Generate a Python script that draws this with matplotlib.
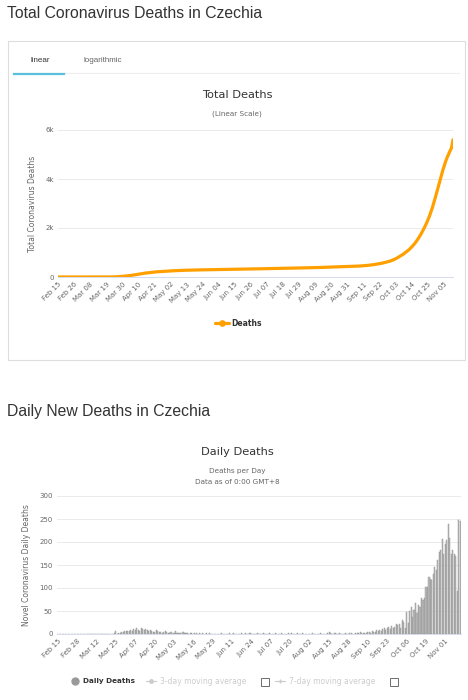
import numpy as np
import matplotlib
matplotlib.use("Agg")
import matplotlib.pyplot as plt
from matplotlib.lines import Line2D
from matplotlib.patches import Rectangle
import datetime as dt

# dates Feb 15 .. Nov 11 (2020)
start = dt.date(2020, 2, 15)
n_days = 271
dates = [start + dt.timedelta(days=i) for i in range(n_days)]
labels = [d.strftime("%b %d") for d in dates]

# cumulative deaths
total_deaths = (
    [0] * 15 + [0] * 21 +
    [1, 1, 3, 9, 10, 13, 16, 21, 26, 32] +
    [39, 45, 51, 59, 65, 75, 83, 95, 104, 112, 124, 134, 142, 153, 162,
     168, 177, 184, 189, 194, 203, 210, 214, 219, 222, 226, 233, 238, 240, 242] +
    [246, 247, 250, 256, 258, 261, 263, 264, 268, 270, 273, 275, 276, 278, 281, 282,
     282, 284, 287, 288, 289, 290, 290, 292, 293, 293, 294, 294, 295, 295, 296] +
    [297, 298, 300, 301, 302, 303, 305, 306, 307, 309, 310, 311, 312, 314, 315,
     316, 318, 319, 320, 321, 322, 324, 325, 326, 327, 329, 330, 331, 332, 333] +
    [334, 335, 336, 338, 339, 340, 341, 343, 344, 345, 346, 348, 349, 350, 351, 353,
     354, 355, 356, 358, 359, 360, 361, 363, 364, 365, 366, 368, 369, 370, 372] +
    [373, 374, 375, 377, 378, 380, 381, 383, 384, 386, 387, 389, 390, 392, 394, 396,
     397, 399, 400, 402, 404, 405, 407, 409, 411, 413, 415, 417, 419, 421, 423] +
    [425, 428, 431, 434, 437, 440, 443, 447, 451, 456, 461, 466, 471, 477, 484,
     491, 499, 507, 516, 526, 536, 546, 558, 571, 585, 600, 616, 633, 651, 670] +
    [695, 720, 750, 785, 820, 855, 890, 930, 975, 1020, 1070, 1120, 1180, 1240, 1310, 1380,
     1460, 1550, 1640, 1740, 1850, 1960, 2080, 2210, 2350, 2500, 2670, 2850, 3050, 3260, 3480] +
    [3700, 3920, 4140, 4350, 4540, 4720, 4880, 5020, 5150, 5270, 5600]
)

# daily new deaths
daily_deaths = (
    [0] * 15 + [0] * 21 +
    [1, 0, 2, 6, 1, 3, 3, 5, 5, 6] +
    [7, 6, 6, 8, 6, 10, 8, 12, 9, 7, 12, 10, 8, 11, 9, 6, 9, 7, 5, 5, 9, 7, 4, 5, 3, 4, 7, 5, 2, 2] +
    [4, 1, 3, 6, 2, 3, 2, 1, 4, 2, 3, 2, 1, 3, 2, 1, 2, 3, 1, 2, 1, 2, 1, 0, 2, 1, 2, 1, 0, 1, 1] +
    [1, 1, 0, 2, 1, 1, 0, 1, 2, 1, 0, 2, 1, 1, 1, 0, 2, 1, 1, 2, 0, 1, 3, 1, 1, 0, 1, 2, 1, 1] +
    [1, 2, 0, 1, 1, 2, 1, 0, 1, 2, 1, 1, 0, 2, 1, 1, 1, 0, 2, 1, 3, 1, 1, 0, 2, 1, 1, 2, 1, 1, 0] +
    [1, 0, 1, 2, 1, 1, 0, 1, 2, 1, 1, 0, 1, 3, 4, 2, 1, 1, 2, 0, 1, 2, 1, 1, 0, 2, 1, 1, 2, 3, 1] +
    [1, 3, 2, 2, 4, 2, 3, 3, 2, 4, 5, 3, 6, 4, 5, 8, 6, 9, 7, 10, 12, 9, 13, 15, 11, 18, 14, 16, 22, 19] +
    [22, 14, 30, 26, 12, 47, 25, 49, 59, 38, 53, 68, 45, 64, 58, 79, 75, 79, 103, 102,
     123, 119, 117, 130, 145, 140, 160, 178, 182, 207, 175] +
    [196, 204, 240, 209, 175, 182, 175, 170, 93, 247, 245]
)

W, H = 468, 700
fig = plt.figure(figsize=(W / 100, H / 100), dpi=100)
fig.patch.set_facecolor("white")


def fx(x):
    return x / W


def fy(y):
    return 1 - y / H


def box(x0, y0, x1, y1):
    return [fx(x0), fy(y1), fx(x1) - fx(x0), fy(y0) - fy(y1)]


title_font = "Liberation Sans"
chart_font = "DejaVu Sans"
grid_c = "#e6e6e6"
tick_c = "#666666"
orange = "#FFA000"

# ---------- top panel ----------
fig.text(fx(7), fy(14), "Total Coronavirus Deaths in Czechia", fontsize=11.3,
         family=title_font, color="#333333", va="center")
fig.patches.append(Rectangle((fx(8), fy(360)), fx(465) - fx(8), fy(41) - fy(360),
                             transform=fig.transFigure, fill=False, ec="#dddddd", lw=0.8))
fig.lines.append(Line2D([fx(14), fx(459)], [fy(73), fy(73)], transform=fig.transFigure,
                        color="#eeeeee", lw=0.8))
fig.lines.append(Line2D([fx(14), fx(64)], [fy(74), fy(74)], transform=fig.transFigure,
                        color="#5bc0de", lw=1.6))
fig.text(fx(40), fy(60), "linear", fontsize=5.8, family=title_font, color="#333333",
         ha="center", va="center")
fig.text(fx(103), fy(60), "logarithmic", fontsize=5.8, family=title_font, color="#666666",
         ha="center", va="center")
fig.text(fx(237), fy(95), "Total Deaths", fontsize=8.2, family=chart_font, color="#333333",
         ha="center", va="center")
fig.text(fx(237), fy(114), "(Linear Scale)", fontsize=5.2, family=chart_font, color="#666666",
         ha="center", va="center")

x = np.arange(n_days)
ax1 = fig.add_axes(box(58, 130, 453, 277))
ax1.plot(x, total_deaths, color=orange, lw=2.3, solid_capstyle="round")
ax1.set_xlim(0, n_days - 1)
ax1.set_ylim(0, 6000)
ax1.set_yticks([0, 2000, 4000, 6000])
ax1.set_yticklabels(["0", "2k", "4k", "6k"])
ax1.set_xticks(x[::11])
ax1.set_xticklabels(labels[::11], rotation=45, ha="right", rotation_mode="anchor")
ax1.set_ylabel("Total Coronavirus Deaths", fontsize=5.5, color=tick_c, family=chart_font,
               labelpad=6)

# ---------- bottom panel ----------
fig.text(fx(7), fy(412), "Daily New Deaths in Czechia", fontsize=11.3,
         family=title_font, color="#333333", va="center")
fig.text(fx(237), fy(452), "Daily Deaths", fontsize=8.2, family=chart_font, color="#333333",
         ha="center", va="center")
fig.text(fx(237), fy(471), "Deaths per Day", fontsize=5.2, family=chart_font, color="#666666",
         ha="center", va="center")
fig.text(fx(237), fy(482), "Data as of 0:00 GMT+8", fontsize=5.2, family=chart_font,
         color="#666666", ha="center", va="center")

ax2 = fig.add_axes(box(57, 496, 461, 634))
ax2.bar(x, daily_deaths, width=0.75, color="#bdbdbd", edgecolor="#8f8f8f", linewidth=0.3)
ax2.set_xlim(-0.5, n_days - 0.5)
ax2.set_ylim(0, 300)
ax2.set_yticks(range(0, 301, 50))
ax2.set_xticks(x[::13])
ax2.set_xticklabels(labels[::13], rotation=45, ha="right", rotation_mode="anchor")
ax2.set_ylabel("Novel Coronavirus Daily Deaths", fontsize=5.5, color=tick_c, family=chart_font,
               labelpad=6)

for ax in (ax1, ax2):
    ax.set_facecolor("white")
    for s in ("top", "right", "left"):
        ax.spines[s].set_visible(False)
    ax.spines["bottom"].set_color("#ccd6eb")
    ax.spines["bottom"].set_linewidth(0.6)
    ax.grid(axis="y", color=grid_c, lw=0.6)
    ax.set_axisbelow(True)
    ax.tick_params(length=0, labelsize=5, colors=tick_c, pad=3)
    for t in ax.get_xticklabels() + ax.get_yticklabels():
        t.set_family(chart_font)

# legend top
fig.lines.append(Line2D([fx(215), fx(229)], [fy(323), fy(323)], transform=fig.transFigure,
                        color=orange, lw=2.3, solid_capstyle="round"))
fig.lines.append(Line2D([fx(222)], [fy(323)], transform=fig.transFigure,
                        color=orange, marker="o", markersize=3.8, linestyle="none"))
fig.text(fx(231), fy(323), "Deaths", fontsize=5.5, weight="bold", family=chart_font,
         color="#333333", va="center")

# legend bottom
ly = fy(681)
fig.lines.append(Line2D([fx(75)], [ly], transform=fig.transFigure, color="#999999",
                        marker="o", markersize=5, linestyle="none"))
fig.text(fx(83), ly, "Daily Deaths", fontsize=5.2, weight="bold", family=chart_font,
         color="#333333", va="center")
fig.lines.append(Line2D([fx(146), fx(156)], [ly, ly], transform=fig.transFigure,
                        color="#cccccc", lw=0.8))
fig.lines.append(Line2D([fx(151)], [ly], transform=fig.transFigure, color="#cccccc",
                        marker="o", markersize=2.5, linestyle="none"))
fig.text(fx(160), ly, "3-day moving average", fontsize=5.5, family=chart_font,
         color="#cccccc", va="center")
fig.lines.append(Line2D([fx(275), fx(285)], [ly, ly], transform=fig.transFigure,
                        color="#cccccc", lw=0.8))
fig.lines.append(Line2D([fx(280)], [ly], transform=fig.transFigure, color="#cccccc",
                        marker="+", markersize=3, linestyle="none"))
fig.text(fx(289), ly, "7-day moving average", fontsize=5.5, family=chart_font,
         color="#cccccc", va="center")
for cx in (265, 394):
    fig.patches.append(Rectangle((fx(cx - 4), fy(686)), fx(8), fx(8) * W / H,
                                 transform=fig.transFigure, fill=False, ec="#555555", lw=0.6))

fig.savefig("out.png", dpi=100, facecolor="white")
